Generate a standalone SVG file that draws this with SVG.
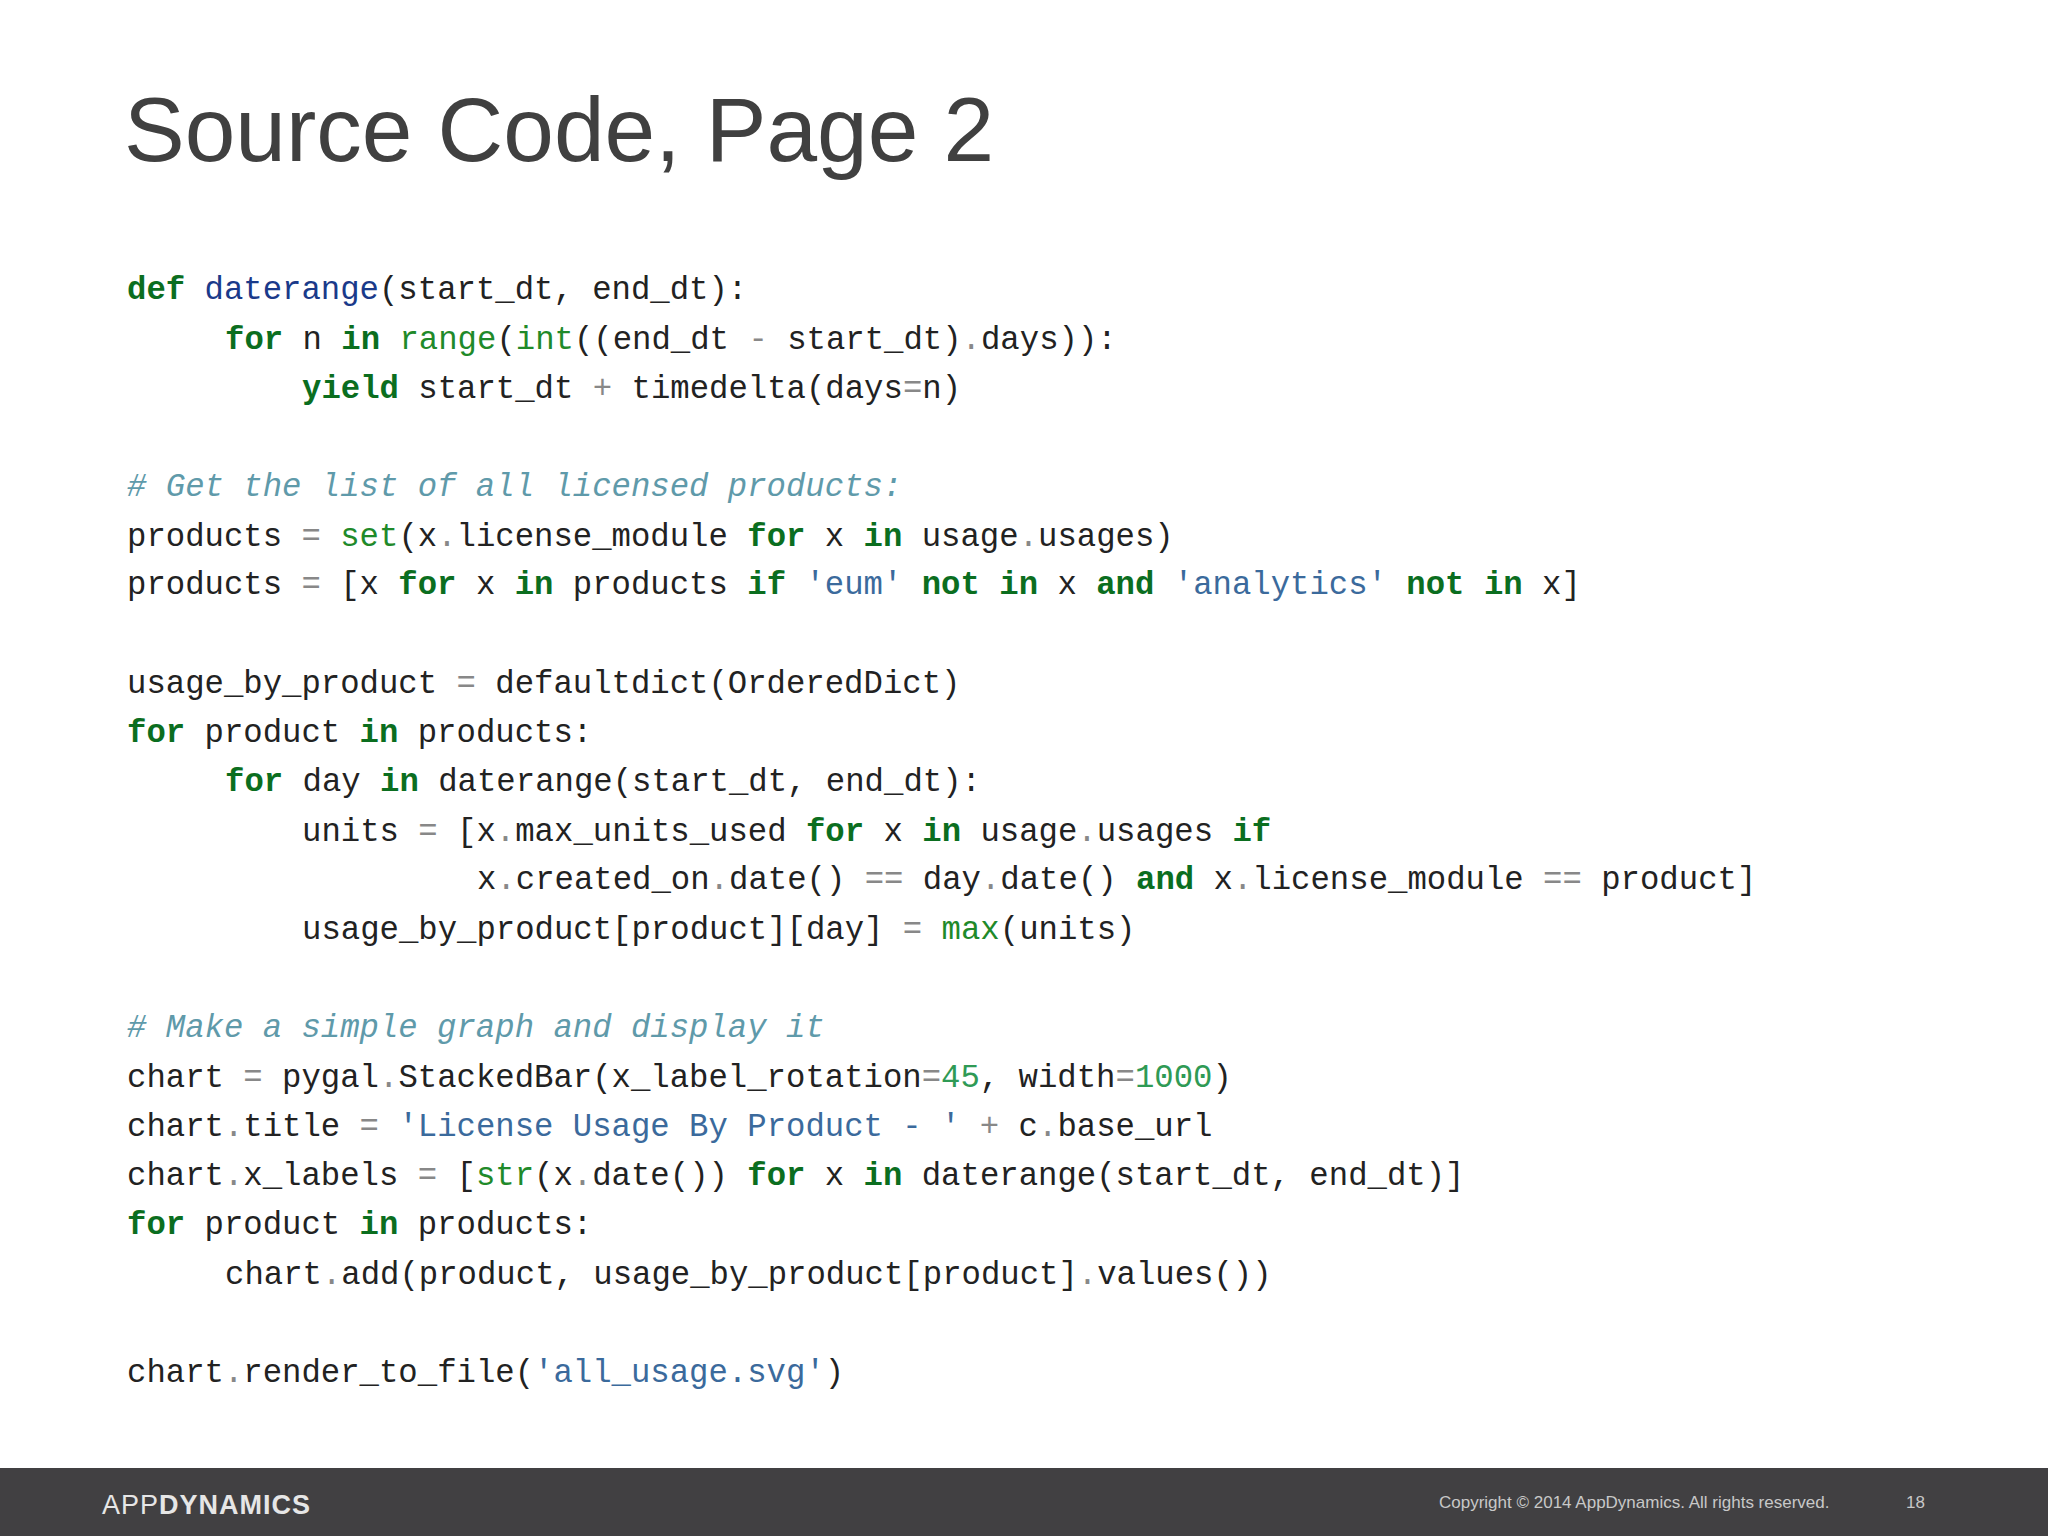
<svg xmlns="http://www.w3.org/2000/svg" width="2048" height="1536" viewBox="0 0 2048 1536">
<style>
.c{font-family:"Liberation Mono",monospace;font-size:32.3px;fill:#222;white-space:pre}
.k{fill:#0b6e1f;font-weight:bold}
.f{fill:#1a3a8a}
.b{fill:#1f8a2a}
.s{fill:#3b6a9c}
.n{fill:#2f9a55}
.o{fill:#888}
.cm{fill:#5f9aaa;font-style:italic}
</style>
<rect width="2048" height="1536" fill="#fff"/>
<g id="title"><text x="124" y="161" font-family="Liberation Sans,Arial,sans-serif" font-size="91" fill="#404040">Source Code, Page 2</text></g>
<g id="code">
<text class="c" x="127" y="299"><tspan class="k">def</tspan> <tspan class="f">daterange</tspan>(start_dt, end_dt):</text>
<text class="c" x="225" y="349"><tspan class="k">for</tspan> n <tspan class="k">in</tspan> <tspan class="b">range</tspan>(<tspan class="b">int</tspan>((end_dt <tspan class="o">-</tspan> start_dt)<tspan class="o">.</tspan>days)):</text>
<text class="c" x="302" y="398"><tspan class="k">yield</tspan> start_dt <tspan class="o">+</tspan> timedelta(days<tspan class="o">=</tspan>n)</text>
<text class="c cm" x="127" y="496"># Get the list of all licensed products:</text>
<text class="c" x="127" y="546">products <tspan class="o">=</tspan> <tspan class="b">set</tspan>(x<tspan class="o">.</tspan>license_module <tspan class="k">for</tspan> x <tspan class="k">in</tspan> usage<tspan class="o">.</tspan>usages)</text>
<text class="c" x="127" y="594">products <tspan class="o">=</tspan> [x <tspan class="k">for</tspan> x <tspan class="k">in</tspan> products <tspan class="k">if</tspan> <tspan class="s">'eum'</tspan> <tspan class="k">not</tspan> <tspan class="k">in</tspan> x <tspan class="k">and</tspan> <tspan class="s">'analytics'</tspan> <tspan class="k">not</tspan> <tspan class="k">in</tspan> x]</text>
<text class="c" x="127" y="693">usage_by_product <tspan class="o">=</tspan> defaultdict(OrderedDict)</text>
<text class="c" x="127" y="742"><tspan class="k">for</tspan> product <tspan class="k">in</tspan> products:</text>
<text class="c" x="225" y="791"><tspan class="k">for</tspan> day <tspan class="k">in</tspan> daterange(start_dt, end_dt):</text>
<text class="c" x="302" y="841">units <tspan class="o">=</tspan> [x<tspan class="o">.</tspan>max_units_used <tspan class="k">for</tspan> x <tspan class="k">in</tspan> usage<tspan class="o">.</tspan>usages <tspan class="k">if</tspan></text>
<text class="c" x="477" y="889">x<tspan class="o">.</tspan>created_on<tspan class="o">.</tspan>date() <tspan class="o">==</tspan> day<tspan class="o">.</tspan>date() <tspan class="k">and</tspan> x<tspan class="o">.</tspan>license_module <tspan class="o">==</tspan> product]</text>
<text class="c" x="302" y="939">usage_by_product[product][day] <tspan class="o">=</tspan> <tspan class="b">max</tspan>(units)</text>
<text class="c cm" x="127" y="1037"># Make a simple graph and display it</text>
<text class="c" x="127" y="1087">chart <tspan class="o">=</tspan> pygal<tspan class="o">.</tspan>StackedBar(x_label_rotation<tspan class="o">=</tspan><tspan class="n">45</tspan>, width<tspan class="o">=</tspan><tspan class="n">1000</tspan>)</text>
<text class="c" x="127" y="1136">chart<tspan class="o">.</tspan>title <tspan class="o">=</tspan> <tspan class="s">'License Usage By Product - '</tspan> <tspan class="o">+</tspan> c<tspan class="o">.</tspan>base_url</text>
<text class="c" x="127" y="1185">chart<tspan class="o">.</tspan>x_labels <tspan class="o">=</tspan> [<tspan class="b">str</tspan>(x<tspan class="o">.</tspan>date()) <tspan class="k">for</tspan> x <tspan class="k">in</tspan> daterange(start_dt, end_dt)]</text>
<text class="c" x="127" y="1234"><tspan class="k">for</tspan> product <tspan class="k">in</tspan> products:</text>
<text class="c" x="225" y="1284">chart<tspan class="o">.</tspan>add(product, usage_by_product[product]<tspan class="o">.</tspan>values())</text>
<text class="c" x="127" y="1382">chart<tspan class="o">.</tspan>render_to_file(<tspan class="s">'all_usage.svg'</tspan>)</text>
</g>
<g id="footer">
<rect x="0" y="1468" width="2048" height="68" fill="#414042"/>
<text x="102" y="1514" font-family="Liberation Sans,Arial,sans-serif" font-size="27" fill="#e6e6e6" letter-spacing="1">APP<tspan font-weight="bold">DYNAMICS</tspan></text>
<text x="1439" y="1508" font-family="Liberation Sans,Arial,sans-serif" font-size="17" fill="#c8c8c8">Copyright © 2014 AppDynamics. All rights reserved.</text>
<text x="1906" y="1508" font-family="Liberation Sans,Arial,sans-serif" font-size="17" fill="#c8c8c8">18</text>
</g>
</svg>
